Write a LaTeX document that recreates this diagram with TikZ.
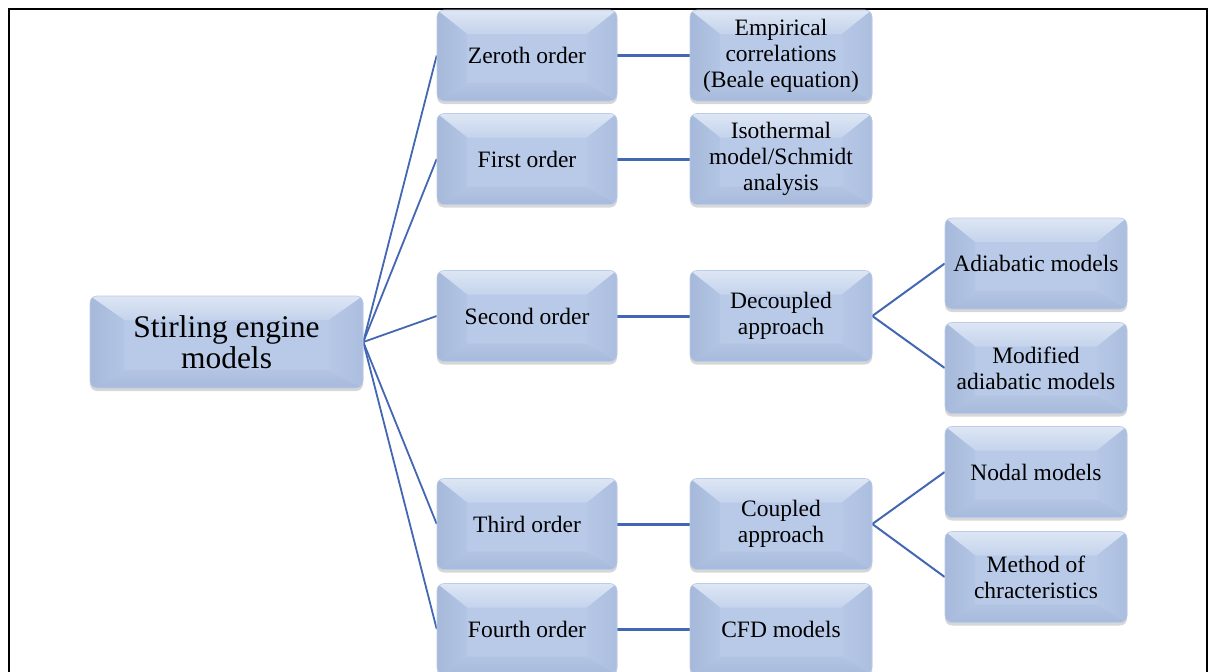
\documentclass[tikz,border=0pt]{standalone}
\usepackage{fontspec}
\setmainfont{Liberation Serif}
\usetikzlibrary{shadows,backgrounds}

\definecolor{bface}{HTML}{B9CAE8}
\definecolor{btoplight}{HTML}{DDE6F4}
\definecolor{btop}{HTML}{C4D3EC}
\definecolor{bleftdark}{HTML}{A6B9DA}
\definecolor{bleft}{HTML}{B3C5E4}
\definecolor{bright}{HTML}{B6C7E6}
\definecolor{brightdark}{HTML}{ACBEDF}
\definecolor{bbottom}{HTML}{B3C4E3}
\definecolor{bbottomdark}{HTML}{A7BADB}
\definecolor{bedge}{HTML}{BCCCE8}
\definecolor{link}{HTML}{4367B2}

\tikzset{
  bevelbox/.style n args={3}{
    rectangle, rounded corners=7pt, fill=bface, draw=bedge, line width=0.6pt,
    inner sep=0pt, align=center, text=black,
    font=\fontsize{23.5}{26}\selectfont,
    drop shadow={shadow xshift=0pt, shadow yshift=-3pt, opacity=0.22, fill=black!70},
    path picture={
      \begin{scope}[sharp corners]
        % top facet with a glossy highlight
        \shade[top color=btoplight, bottom color=btop]
          (path picture bounding box.north west) -- (path picture bounding box.north east)
          -- ([xshift=-#1pt,yshift=-#2pt]path picture bounding box.north east)
          -- ([xshift=#1pt,yshift=-#2pt]path picture bounding box.north west) -- cycle;
        % left facet
        \shade[left color=bleftdark, right color=bleft]
          (path picture bounding box.north west) -- (path picture bounding box.south west)
          -- ([xshift=#1pt,yshift=#3pt]path picture bounding box.south west)
          -- ([xshift=#1pt,yshift=-#2pt]path picture bounding box.north west) -- cycle;
        % bottom facet
        \shade[top color=bbottom, bottom color=bbottomdark]
          (path picture bounding box.south west) -- (path picture bounding box.south east)
          -- ([xshift=-#1pt,yshift=#3pt]path picture bounding box.south east)
          -- ([xshift=#1pt,yshift=#3pt]path picture bounding box.south west) -- cycle;
        % right facet
        \shade[left color=bright, right color=brightdark]
          (path picture bounding box.north east) -- (path picture bounding box.south east)
          -- ([xshift=-#1pt,yshift=#3pt]path picture bounding box.south east)
          -- ([xshift=-#1pt,yshift=-#2pt]path picture bounding box.north east) -- cycle;
      \end{scope}
    }
  },
  ordbox/.style={bevelbox={30}{24}{18}, minimum width=180pt, minimum height=91pt},
  subbox/.style={bevelbox={30}{24}{18}, minimum width=182pt, minimum height=91pt},
  rootbox/.style={bevelbox={34}{24}{18}, minimum width=273pt, minimum height=92pt,
    font=\fontsize{31.5}{31}\selectfont},
  rootlink/.style={draw=link, line width=1.8pt},
  hlink/.style={draw=link, line width=3pt},
  sublink/.style={draw=link, line width=2pt},
}

\begin{document}
\begin{tikzpicture}[x=1pt, y=-1pt]
  \useasboundingbox (0,0) rectangle (1211,672);

  % root
  \node[rootbox] (root) at (226.5,342) {Stirling engine\\models};

  % model orders
  \node[ordbox] (zeroth) at (527,55.5) {Zeroth order};
  \node[ordbox] (first)  at (527,159)  {First order};
  \node[ordbox] (second) at (527,316)  {Second order};
  \node[ordbox] (third)  at (527,524)  {Third order};
  \node[ordbox] (fourth) at (527,629)  {Fourth order};

  % approaches
  \node[subbox] (empirical)  at (781,55.5) {Empirical\\correlations\\(Beale equation)};
  \node[subbox] (isothermal) at (781,159)  {Isothermal\\model/Schmidt\\analysis};
  \node[subbox] (decoupled)  at (781,316)  {Decoupled\\approach};
  \node[subbox] (coupled)    at (781,524)  {Coupled\\approach};
  \node[subbox] (cfd)        at (781,629)  {CFD models};

  % model families
  \node[subbox] (adiabatic) at (1036,263.5) {Adiabatic models};
  \node[subbox] (modified)  at (1036,368)   {Modified\\adiabatic models};
  \node[subbox] (nodal)     at (1036,472)   {Nodal models};
  \node[subbox] (method)    at (1036,577)   {Method of\\chracteristics};

  \begin{pgfonlayer}{background}
    \fill[white] (0,0) rectangle (1211,672);
    \draw[black, line width=1.6pt] (9,9) rectangle (1207,720);
    \foreach \n in {zeroth,first,second,third,fourth}
      \draw[rootlink] (root.east) -- (\n.west);
    \draw[hlink] (zeroth.east) -- (empirical.west);
    \draw[hlink] (first.east)  -- (isothermal.west);
    \draw[hlink] (second.east) -- (decoupled.west);
    \draw[hlink] (third.east)  -- (coupled.west);
    \draw[hlink] (fourth.east) -- (cfd.west);
    \draw[sublink] (decoupled.east) -- (adiabatic.west);
    \draw[sublink] (decoupled.east) -- (modified.west);
    \draw[sublink] (coupled.east) -- (nodal.west);
    \draw[sublink] (coupled.east) -- (method.west);
  \end{pgfonlayer}
\end{tikzpicture}
\end{document}
